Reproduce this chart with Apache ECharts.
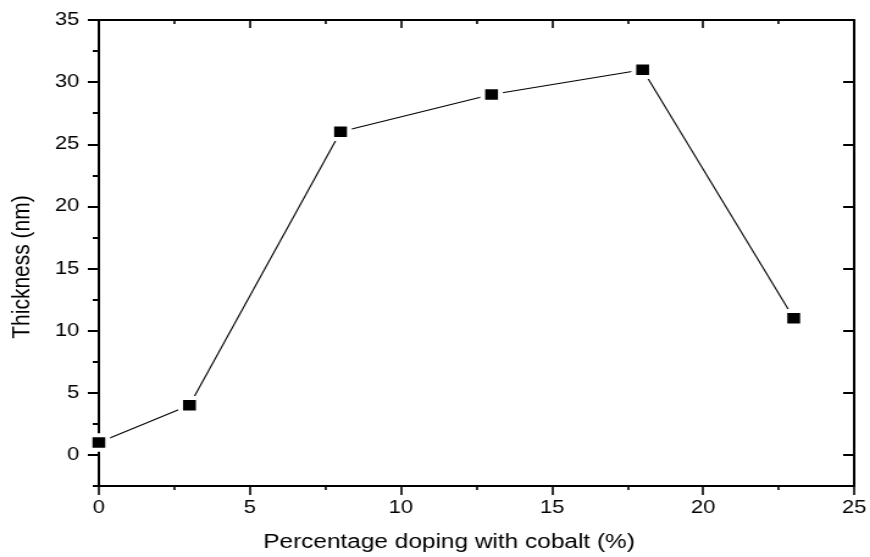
<!DOCTYPE html>
<html>
<head>
<meta charset="utf-8">
<script src="https://cdn.jsdelivr.net/npm/echarts@6/dist/echarts.min.js"></script>
<style>
  html, body { margin: 0; padding: 0; background: #fff; overflow: hidden; }
  /* the chart is laid out narrower and stretched horizontally */
  #chart { width: 713px; height: 557px; transform: scaleX(1.2202); transform-origin: 0 0; }
</style>
</head>
<body>
<div id="chart"></div>
<script>
// Film thickness versus cobalt doping level
const dopingPercent = [0, 3, 8, 13, 18, 23];
const thicknessNm = [1, 4, 26, 29, 31, 11];
const yMajorTicks = [0, 5, 10, 15, 20, 25, 30, 35];

const FONT = "'Liberation Sans', Arial, sans-serif";
const BLACK = '#000';

const points = dopingPercent.map((x, i) => [x, thicknessNm[i]]);

const xCommon = { type: 'value', min: 0, max: 25, interval: 5, splitLine: { show: false } };
const yCommon = { type: 'value', min: -2.5, max: 35, interval: 2.5, splitLine: { show: false } };

const chart = echarts.init(document.getElementById('chart'), null, { renderer: 'canvas' });
chart.setOption({
  animation: false,
  backgroundColor: '#fff',
  grid: { left: 77.5, right: 13, top: 20, bottom: 69.3, containLabel: false },
  xAxis: [
    Object.assign({}, xCommon, {
      position: 'bottom',
      name: 'Percentage doping with cobalt (%)',
      nameLocation: 'middle',
      nameGap: 46,
      nameTextStyle: { fontFamily: FONT, fontSize: 20, color: BLACK, padding: [0, 45, 0, 0] },
      axisLine: { show: true, onZero: false, lineStyle: { color: BLACK, width: 2 } },
      axisTick: { show: true, inside: false, length: 9, lineStyle: { color: BLACK, width: 1.6 } },
      minorTick: { show: true, splitNumber: 2, length: 4, lineStyle: { color: BLACK, width: 1.6 } },
      axisLabel: { show: true, margin: 13, fontFamily: FONT, fontSize: 18, color: BLACK }
    }),
    Object.assign({}, xCommon, {
      position: 'top',
      axisLine: { show: true, onZero: false, lineStyle: { color: BLACK, width: 2 } },
      axisTick: { show: true, inside: true, length: 8, lineStyle: { color: BLACK, width: 1.6 } },
      minorTick: { show: true, splitNumber: 2, length: 4, lineStyle: { color: BLACK, width: 1.6 } },
      axisLabel: { show: false }
    })
  ],
  yAxis: [
    Object.assign({}, yCommon, {
      position: 'left',
      name: 'Thickness (nm)',
      nameLocation: 'middle',
      nameGap: 52,
      nameTextStyle: { fontFamily: FONT, fontSize: 21, color: BLACK, padding: [0, 28, 0, 0] },
      axisLine: { show: true, onZero: false, lineStyle: { color: BLACK, width: 2 } },
      axisTick: { show: true, inside: false, length: 9, customValues: yMajorTicks, lineStyle: { color: BLACK, width: 2 } },
      axisLabel: { show: true, margin: 16, customValues: yMajorTicks, fontFamily: FONT, fontSize: 18, color: BLACK }
    }),
    Object.assign({}, yCommon, {
      position: 'left',
      axisLine: { show: false },
      axisTick: { show: true, inside: false, length: 5, lineStyle: { color: BLACK, width: 2 } },
      axisLabel: { show: false }
    }),
    Object.assign({}, yCommon, {
      position: 'right',
      axisLine: { show: true, onZero: false, lineStyle: { color: BLACK, width: 2 } },
      axisTick: { show: true, inside: true, length: 9, customValues: yMajorTicks, lineStyle: { color: BLACK, width: 2 } },
      axisLabel: { show: false }
    }),
    Object.assign({}, yCommon, {
      position: 'right',
      axisLine: { show: false },
      axisTick: { show: true, inside: true, length: 4, lineStyle: { color: BLACK, width: 2 } },
      axisLabel: { show: false }
    })
  ],
  series: [{
    type: 'line',
    xAxisIndex: 0,
    yAxisIndex: 0,
    data: points,
    symbol: 'rect',
    symbolSize: 14.5,
    itemStyle: { color: BLACK, borderColor: '#fff', borderWidth: 4 },
    lineStyle: { color: BLACK, width: 1.1 },
    emphasis: { disabled: true }
  }]
});
</script>
</body>
</html>
